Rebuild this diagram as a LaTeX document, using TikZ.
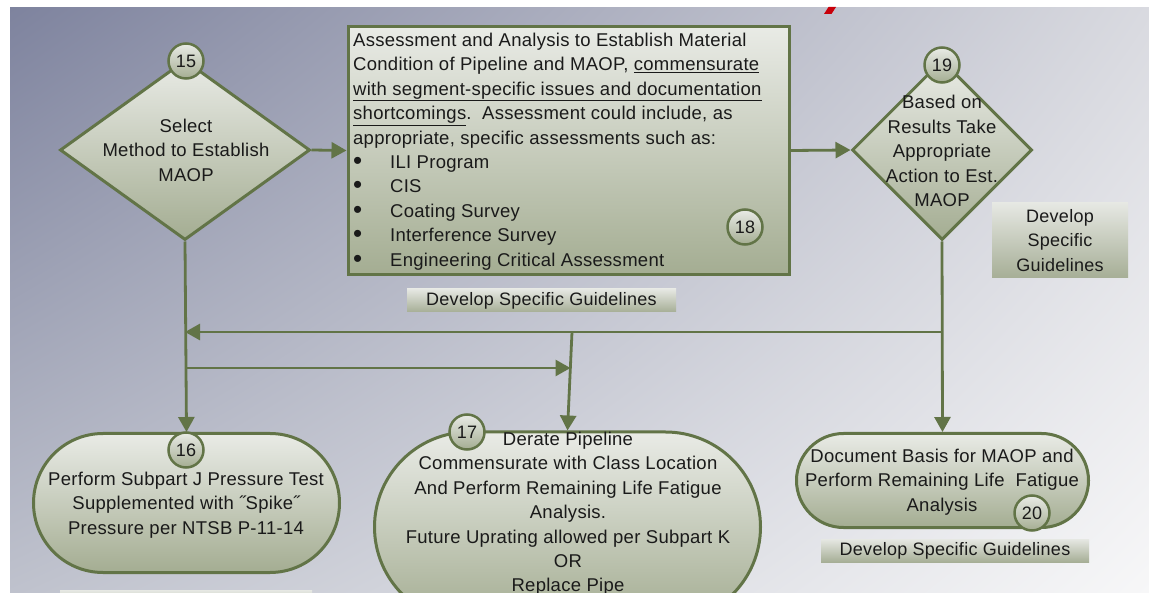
\documentclass[tikz,border=0pt]{standalone}
\usepackage{fontspec}
\setmainfont{Liberation Sans}[LetterSpace=1.5]
\usetikzlibrary{arrows.meta,shapes.geometric,shapes.misc,shadings}

\definecolor{olive}{HTML}{627447}
\definecolor{ink}{HTML}{1A1A1A}
\definecolor{fillTop}{HTML}{E9EBE6}
\definecolor{fillBot}{HTML}{A4AD92}
\definecolor{tagTop}{HTML}{E6E8E3}
\definecolor{tagBot}{HTML}{A6AE96}
\definecolor{bgUL}{HTML}{7E839E}
\definecolor{bgUR}{HTML}{D9DAE0}
\definecolor{bgLL}{HTML}{BFC2CD}
\definecolor{bgLR}{HTML}{F7F7F8}
\definecolor{flag}{HTML}{C8000A}

\tikzset{
  txt/.style={font=\fontsize{18.5}{24.4}\selectfont, text=ink, inner sep=0pt},
  greenfill/.style={top color=fillTop, bottom color=fillBot},
  outlined/.style={draw=olive, line width=3pt},
  decision/.style={diamond, greenfill, outlined, inner sep=0pt},
  terminal/.style={rounded rectangle, greenfill, outlined, inner sep=0pt},
  panel/.style={rectangle, greenfill, draw=olive, line width=3.5pt, inner sep=0pt},
  badge/.style={circle, greenfill, draw=olive, line width=2.5pt, minimum size=35pt,
    inner sep=0pt, font=\fontsize{18}{20}\selectfont, text=ink},
  tag/.style={rectangle, top color=tagTop, bottom color=tagBot, inner sep=0pt,
    font=\fontsize{18}{24.4}\selectfont, text=ink, align=center},
  conn/.style={draw=olive, line width=2.8pt, -{Triangle[length=15pt,width=16pt]}},
  wire/.style={draw=olive, line width=2.8pt}
}

% bulleted line inside the assessment panel
\newcommand{\bul}[1]{\makebox[37pt][l]{\raisebox{-1pt}{\fontsize{26}{0}\selectfont\textbullet}}#1}

\begin{document}
\begin{tikzpicture}[x=1pt, y=-1pt]
  \useasboundingbox (0,0) rectangle (1149,593);
  \clip (0,0) rectangle (1149,593);
  \fill[white] (0,0) rectangle (1149,593);
  % backdrop
  \shade[upper left=bgUL, upper right=bgUR, lower left=bgLL, lower right=bgLR]
    (10,8) rectangle (1149,593);
  \fill[flag] (824,14) -- (828.5,7) -- (836,7) -- (831.5,14) -- cycle;

  % shapes
  \node[decision, minimum width=250pt, minimum height=180pt] (d1) at (185,150) {};
  \node[decision, minimum width=180pt, minimum height=180pt] (d2) at (942,150) {};
  \node[panel, minimum width=441pt, minimum height=248pt] (r18) at (568.75,150.5) {};
  \node[terminal, minimum width=306pt, minimum height=139pt] (e16) at (186.5,503) {};
  \node[terminal, minimum width=386pt, minimum height=190pt] (e17) at (567.5,527) {};
  \node[terminal, minimum width=292pt, minimum height=94pt] (e20) at (942.5,480.5) {};

  % guideline tags
  \node[tag, minimum width=269pt, minimum height=23pt] (g18) at (541.5,300.5) {Develop Specific Guidelines};
  \node[tag, minimum width=136pt, minimum height=75pt] (g19) at (1060,240.5) {Develop\\Specific\\Guidelines};
  \node[tag, minimum width=268pt, minimum height=23pt] (g20) at (955,550.5) {Develop Specific Guidelines};
  \node[tag, minimum width=252pt, minimum height=23pt] (g16) at (186,601.5) {};

  % connectors
  \coordinate (rowA) at (0,332);
  \coordinate (rowB) at (0,368);
  \coordinate (tap) at (572,332);
  \coordinate (meet) at (570.5,368);
  \draw[conn] (d1.east) -- (r18.west);
  \draw[conn] (r18.east) -- (d2.west);
  \draw[conn] (d1.south) -- (e16.north);
  \draw[conn] (d2.south) -- (e20.north);
  \draw[conn] (d2.south |- rowA) -- (d1.south |- rowA);
  \draw[conn] (tap) -- (e17.north);
  \draw[conn] (d1.south |- rowB) -- (meet);

  % texts
  \node[txt, align=center] (t1) at (186,150) {Select\\Method to Establish\\MAOP};
  \node[txt, align=center] (t2) at (942,151) {Based on\\Results Take\\Appropriate\\Action to Est.\\MAOP};
  \node[txt, align=left, anchor=north west] (t18) at (353,32.8) {%
    Assessment and Analysis to Establish Material\\
    Condition of Pipeline and MAOP, \underline{commensurate}\\
    \underline{with segment-specific issues and documentation}\\
    \underline{shortcomings}.\ \ Assessment could include, as\\
    appropriate, specific assessments such as:\\
    \bul{ILI Program}\\
    \bul{CIS}\\
    \bul{Coating Survey}\\
    \bul{Interference Survey}\\
    \bul{Engineering Critical Assessment}};
  \node[txt, align=center] (t16) at (186,505) {Perform Subpart J Pressure Test\\Supplemented with ˝Spike˝\\Pressure per NTSB P-11-14};
  \node[txt, align=center] (t17) at (568,514) {Derate Pipeline\\Commensurate with Class Location\\And Perform Remaining Life Fatigue\\Analysis.\\Future Uprating allowed per Subpart K\\OR\\Replace Pipe};
  \node[txt, align=center] (t20) at (942,482) {Document Basis for MAOP and\\Perform Remaining Life\ \ Fatigue\\Analysis};

  % step numbers
  \node[badge] (n15) at (186,61) {15};
  \node[badge] (n18) at (745,227) {18};
  \node[badge] (n19) at (942,65) {19};
  \node[badge] (n16) at (186,450) {16};
  \node[badge] (n17) at (467,432) {17};
  \node[badge] (n20) at (1032,513) {20};
\end{tikzpicture}
\end{document}
